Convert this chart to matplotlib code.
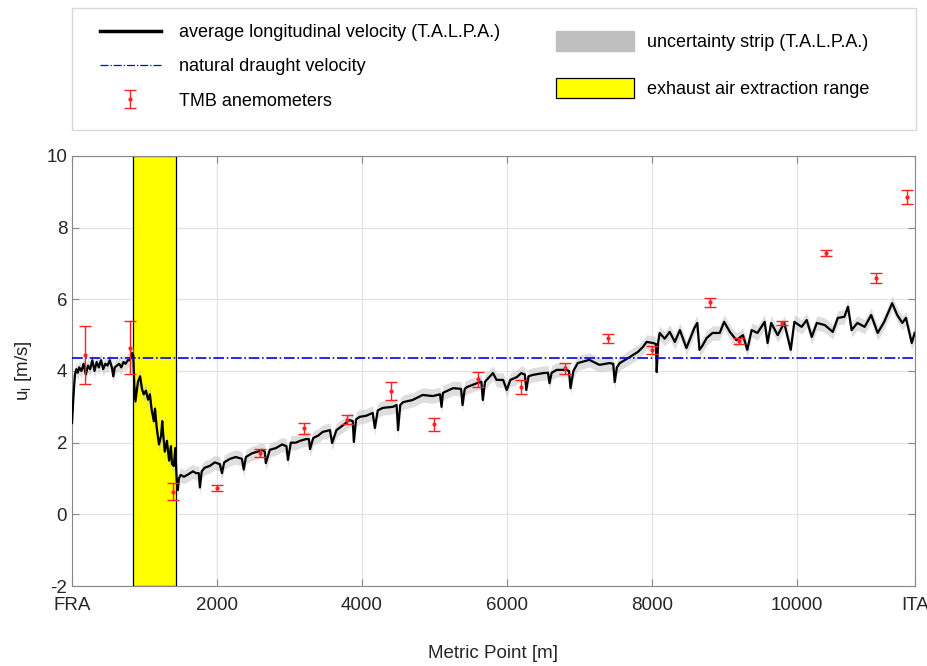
import numpy as np
import matplotlib
matplotlib.use('Agg')
from matplotlib import pyplot as plt
from matplotlib.patches import Patch, Rectangle
from matplotlib.lines import Line2D

plt.rcParams['font.family'] = ['Liberation Sans', 'DejaVu Sans']
plt.rcParams['mathtext.fontset'] = 'custom'
plt.rcParams['mathtext.rm'] = 'Liberation Sans'
plt.rcParams['mathtext.it'] = 'Liberation Sans'
plt.rcParams['axes.unicode_minus'] = False

#Average longitudinal velocity along the tunnel:
mp = [0, 20, 40, 60, 80, 100, 130, 160, 190, 220, 250, 280, 310, 340, 370,
      400, 430, 460, 490, 520, 550, 570, 590, 620, 650, 680, 710, 740, 770,
      800, 830, 845, 860, 875, 910, 940, 965, 990, 1020, 1050, 1075, 1100,
      1130, 1145, 1170, 1200, 1230, 1245, 1260, 1280, 1310, 1340, 1365, 1380,
      1405, 1425, 1445, 1460, 1475, 1500, 1545, 1590, 1630, 1670, 1710, 1750,
      1765, 1790, 1830, 1900, 1970, 2040, 2070, 2100, 2180, 2260, 2345, 2370,
      2400, 2480, 2560, 2620, 2660, 2675, 2730, 2815, 2900, 2960, 2980, 3020,
      3090, 3145, 3230, 3270, 3285, 3330, 3400, 3460, 3560, 3590, 3650, 3750,
      3830, 3875, 3890, 3920, 3970, 4060, 4150, 4180, 4220, 4290, 4430, 4480,
      4500, 4530, 4570, 4700, 4840, 4980, 5080, 5100, 5120, 5260, 5370, 5390,
      5420, 5450, 5590, 5650, 5670, 5700, 5810, 5860, 5950, 6000, 6050, 6140,
      6200, 6250, 6270, 6300, 6360, 6500, 6570, 6590, 6620, 6690, 6820, 6860,
      6880, 6920, 6980, 7140, 7280, 7420, 7470, 7490, 7520, 7560, 7700, 7810,
      7880, 7930, 8020, 8060, 8070, 8090, 8110, 8180, 8250, 8320, 8390, 8480,
      8590, 8630, 8660, 8700, 8760, 8840, 8940, 9000, 9080, 9170, 9260, 9320,
      9380, 9460, 9560, 9600, 9650, 9740, 9830, 9920, 9970, 10070, 10140,
      10210, 10280, 10390, 10500, 10570, 10660, 10710, 10760, 10840, 10940,
      11030, 11120, 11210, 11320, 11390, 11460, 11510, 11590, 11630]
u_avg = [2.55, 3.3, 3.9, 4.05, 3.95, 4.1, 4.0, 4.2, 3.9, 4.15, 4.05, 4.3, 4.0,
         4.25, 4.1, 4.3, 4.05, 4.2, 4.15, 4.3, 4.1, 3.85, 4.1, 4.15, 4.2, 4.1,
         4.25, 4.2, 4.3, 4.3, 4.5, 4.45, 3.6, 3.15, 3.7, 3.85, 3.5, 3.35, 3.45,
         3.2, 3.35, 2.9, 2.6, 2.95, 2.4, 1.95, 2.2, 2.6, 2.2, 1.75, 2.05, 1.5,
         1.9, 1.4, 1.35, 1.85, 0.95, 0.68, 1.0, 1.1, 1.05, 1.1, 1.15, 1.2,
         1.15, 1.15, 0.75, 1.2, 1.3, 1.35, 1.45, 1.4, 1.15, 1.45, 1.55, 1.6,
         1.55, 1.25, 1.6, 1.7, 1.75, 1.8, 1.75, 1.43, 1.8, 1.85, 1.95, 1.9,
         1.52, 2.0, 2.0, 2.05, 2.1, 2.1, 1.82, 2.13, 2.2, 2.3, 2.35, 1.99,
         2.35, 2.5, 2.63, 2.6, 2.02, 2.65, 2.72, 2.75, 2.83, 2.41, 2.9, 2.97,
         3.0, 3.05, 2.35, 3.05, 3.13, 3.19, 3.33, 3.3, 3.35, 3.0, 3.39, 3.52,
         3.5, 3.05, 3.5, 3.55, 3.66, 3.7, 3.19, 3.7, 3.94, 3.75, 3.75, 3.47,
         3.75, 3.83, 3.94, 3.9, 3.47, 3.85, 3.89, 3.94, 3.95, 3.66, 3.95, 4.03,
         4.03, 4.0, 3.52, 4.0, 4.22, 4.31, 4.17, 4.22, 4.2, 3.69, 4.1, 4.22,
         4.39, 4.53, 4.67, 4.81, 4.78, 4.75, 3.97, 4.8, 5.06, 4.9, 5.09, 4.81,
         5.14, 4.64, 5.2, 5.34, 4.59, 4.7, 4.92, 5.06, 5.06, 5.37, 5.09, 4.86,
         5.0, 4.59, 5.14, 5.06, 5.37, 4.78, 5.34, 5.0, 5.34, 4.59, 5.37, 5.23,
         5.42, 4.95, 5.34, 5.28, 5.09, 5.48, 5.51, 5.79, 5.14, 5.34, 5.23,
         5.56, 5.06, 5.37, 5.89, 5.56, 5.34, 5.48, 4.78, 5.06]
#Half width of the uncertainty strip:
u_unc = 0.2

#TMB anemometers: position, value, lower and upper end of the bar
tmb_mp = [180, 800, 1400, 2000, 2600, 3200, 3800, 4400, 5000, 5600, 6200,
          6800, 7400, 8000, 8800, 9200, 9800, 10400, 11100, 11520]
tmb_u = [4.45, 4.64, 0.62, 0.73, 1.71, 2.41, 2.63, 3.44, 2.52, 3.78, 3.55,
         4.08, 4.92, 4.59, 5.92, 4.84, 5.34, 7.29, 6.6, 8.86]
tmb_lo = [3.64, 3.92, 0.40, 0.65, 1.60, 2.24, 2.52, 3.19, 2.32, 3.55, 3.36,
          3.92, 4.78, 4.47, 5.79, 4.75, 5.28, 7.20, 6.46, 8.66]
tmb_hi = [5.26, 5.39, 0.87, 0.82, 1.82, 2.55, 2.77, 3.69, 2.69, 3.97, 3.74,
          4.22, 5.03, 4.70, 6.03, 4.92, 5.39, 7.38, 6.73, 9.05]

u_natural = 4.37
extraction = (840, 1435)
mp_end = 11630

xticks = [0, 2000, 4000, 6000, 8000, 10000, mp_end]
xticklabels = ['FRA', '2000', '4000', '6000', '8000', '10000', 'ITA']

mp = np.array(mp)
u_avg = np.array(u_avg)
tmb_u = np.array(tmb_u)
yerr = [tmb_u - np.array(tmb_lo), np.array(tmb_hi) - tmb_u]

fig = plt.figure(figsize=(9.28, 6.66), dpi=100)
ax = fig.add_axes([0.0776, 0.12, 0.908, 0.646])

#yellow extraction range and gray strip under the line
ax.axvspan(extraction[0], extraction[1], facecolor='#ffff00',
           edgecolor='black', linewidth=0.9, zorder=1)
ax.fill_between(mp, u_avg - u_unc, u_avg + u_unc, color='#c4c4c4',
                alpha=0.55, linewidth=0, zorder=2)
ax.plot(mp, u_avg, color='black', linewidth=1.6, zorder=3)
ax.axhline(u_natural, color='#0000ee', linestyle='-.', linewidth=1.2,
           zorder=4)
h_tmb = ax.errorbar(tmb_mp, tmb_u, yerr=yerr, fmt='.', color='#ff2020',
                    markersize=4, capsize=4, elinewidth=1.0, capthick=1.0,
                    zorder=5)

ax.set_xlim(0, mp_end)
ax.set_ylim(-2, 10)
ax.set_yticks(np.arange(-2, 11, 2))
ax.set_xticks(xticks)
ax.set_xticklabels(xticklabels)
ax.grid(True, color='#e3e3e3', linewidth=0.9)
ax.set_axisbelow(True)
ax.tick_params(direction='in', length=5, top=True, right=True,
               labelsize=13.5, colors='#888888', labelcolor='#262626')
ax.tick_params(axis='x', pad=8)
for s in ax.spines.values():
    s.set_color('#888888')
ax.set_xlabel('Metric Point [m]', fontsize=13.5, color='#262626',
              labelpad=22)
ax.set_ylabel(r'u$_\mathrm{l}$ [m/s]', fontsize=13.5, color='#262626',
              labelpad=9)

#Legend in a box above the axes, two separate columns
fig.patches.append(Rectangle((0.0776, 0.805), 0.909, 0.183,
                             transform=fig.transFigure, facecolor='white',
                             edgecolor='#d9d9d9', linewidth=1.0))
h_line = Line2D([], [], color='black', linewidth=2.5)
h_nat = Line2D([], [], color='#0000ee', linestyle='-.', linewidth=0.9)
leg1 = fig.legend([h_line, h_nat, h_tmb],
                  ['average longitudinal velocity (T.A.L.P.A.)',
                   'natural draught velocity', 'TMB anemometers'],
                  loc='upper left', bbox_to_anchor=(0.090, 0.988),
                  frameon=False, fontsize=13, handlelength=3.4,
                  handletextpad=1.0, labelspacing=0.95, numpoints=1)
h_strip = Patch(facecolor='#bfbfbf', edgecolor='#bfbfbf')
h_yel = Patch(facecolor='#ffff00', edgecolor='black', linewidth=0.9)
leg2 = fig.legend([h_strip, h_yel],
                  ['uncertainty strip (T.A.L.P.A.)',
                   'exhaust air extraction range'],
                  loc='upper left', bbox_to_anchor=(0.582, 0.978),
                  frameon=False, fontsize=13, handlelength=4.3,
                  handleheight=1.3, handletextpad=0.7, labelspacing=1.5)

fig.savefig('out.png', dpi=100)
